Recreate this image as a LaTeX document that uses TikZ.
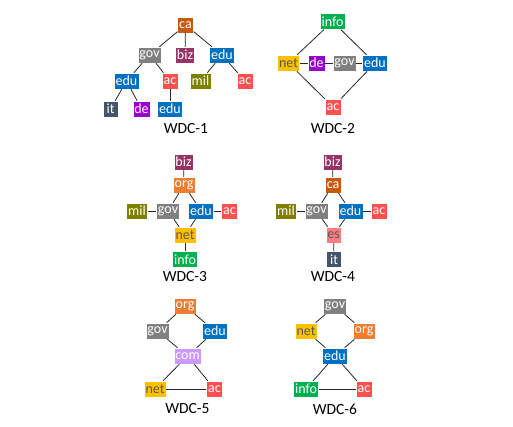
\documentclass[tikz,border=0pt]{standalone}
\usepackage{fontspec}
\setmainfont{Carlito}
\definecolor{cca}{HTML}{C55A11}
\definecolor{cgov}{HTML}{808080}
\definecolor{cbiz}{HTML}{993366}
\definecolor{cedu}{HTML}{0070C0}
\definecolor{cac}{HTML}{FF5050}
\definecolor{cmil}{HTML}{808000}
\definecolor{cit}{HTML}{44546A}
\definecolor{cde}{HTML}{9900CC}
\definecolor{cinfo}{HTML}{00B050}
\definecolor{cnet}{HTML}{FFC000}
\definecolor{corg}{HTML}{ED7D31}
\definecolor{ccom}{HTML}{CC99FF}
\definecolor{ces}{HTML}{FF7C80}
\definecolor{darktxt}{HTML}{595959}
\tikzset{
  dom/.style={rectangle, draw=white, line width=0.5pt, minimum height=16pt, minimum width=15pt, inner xsep=1.5pt, inner ysep=0pt, text=white, font=\fontsize{14}{14}\selectfont},
  ca/.style={dom, fill=cca},
  gov/.style={dom, fill=cgov},
  biz/.style={dom, fill=cbiz},
  edu/.style={dom, fill=cedu},
  ac/.style={dom, fill=cac},
  mil/.style={dom, fill=cmil},
  it/.style={dom, fill=cit},
  de/.style={dom, fill=cde},
  info/.style={dom, fill=cinfo},
  net/.style={dom, fill=cnet, text=darktxt},
  org/.style={dom, fill=corg},
  com/.style={dom, fill=ccom},
  es/.style={dom, fill=ces, text=darktxt},
  lbl/.style={font=\fontsize{15.5}{16}\selectfont, text=black},
  edge/.style={draw=black!85, line width=0.8pt}
}
\begin{document}
\begin{tikzpicture}[x=1pt,y=-1pt]
\useasboundingbox (0,0) rectangle (513,427);
% WDC-1
\node[ca]  (a-ca)   at (185.5,25) {ca};
\node[gov] (a-gov)  at (149.5,55) {gov};
\node[biz] (a-biz)  at (185,55) {biz};
\node[edu] (a-edu)  at (222,55) {edu};
\node[edu] (a-edu2) at (126.5,81) {edu};
\node[ac]  (a-ac)   at (170,81) {ac};
\node[mil] (a-mil)  at (200.5,81) {mil};
\node[ac]  (a-ac2)  at (245,81) {ac};
\node[it]  (a-it)   at (110.5,109) {it};
\node[de]  (a-de)   at (141.5,109) {de};
\node[edu] (a-edu3) at (170,109) {edu};
\node[lbl] (a-l)    at (186,129) {WDC-1};
\draw[edge] (a-ca) -- (a-gov);
\draw[edge] (a-ca) -- (a-biz);
\draw[edge] (a-ca) -- (a-edu);
\draw[edge] (a-gov) -- (a-edu2);
\draw[edge] (a-gov) -- (a-ac);
\draw[edge] (a-edu) -- (a-mil);
\draw[edge] (a-edu) -- (a-ac2);
\draw[edge] (a-edu2) -- (a-it);
\draw[edge] (a-edu2) -- (a-de);
\draw[edge] (a-ac) -- (a-edu3);
% WDC-2
\node[info] (b-info) at (332.5,21.5) {info};
\node[net]  (b-net)  at (288.5,63) {net};
\node[de]   (b-de)   at (316.5,63) {de};
\node[gov]  (b-gov)  at (344.5,63) {gov};
\node[edu]  (b-edu)  at (375,63) {edu};
\node[ac]   (b-ac)   at (333,107) {ac};
\node[lbl]  (b-l)    at (333,129) {WDC-2};
\draw[edge] (b-info) -- (b-net);
\draw[edge] (b-info) -- (b-edu);
\draw[edge] (b-net) -- (b-de);
\draw[edge] (b-de) -- (b-gov);
\draw[edge] (b-gov) -- (b-edu);
\draw[edge] (b-net) -- (b-ac);
\draw[edge] (b-edu) -- (b-ac);
% WDC-3
\node[biz]  (c-biz)  at (183.5,162) {biz};
\node[org]  (c-org)  at (184,185) {org};
\node[mil]  (c-mil)  at (137,211) {mil};
\node[gov]  (c-gov)  at (168,211) {gov};
\node[edu]  (c-edu)  at (201,211) {edu};
\node[ac]   (c-ac)   at (229.5,211) {ac};
\node[net]  (c-net)  at (185,235) {net};
\node[info] (c-info) at (185,259.5) {info};
\node[lbl]  (c-l)    at (185,277) {WDC-3};
\draw[edge] (c-biz) -- (c-org);
\draw[edge] (c-org) -- (c-gov);
\draw[edge] (c-org) -- (c-edu);
\draw[edge] (c-mil) -- (c-gov);
\draw[edge] (c-edu) -- (c-ac);
\draw[edge] (c-gov) -- (c-net);
\draw[edge] (c-edu) -- (c-net);
\draw[edge] (c-net) -- (c-info);
% WDC-4
\node[biz]  (d-biz)  at (332.5,162) {biz};
\node[ca]   (d-ca)   at (333,185) {ca};
\node[mil]  (d-mil)  at (286,211) {mil};
\node[gov]  (d-gov)  at (316.5,211) {gov};
\node[edu]  (d-edu)  at (350.5,211) {edu};
\node[ac]   (d-ac)   at (379,211) {ac};
\node[es]   (d-es)   at (333.5,235) {es};
\node[it]   (d-it)   at (334,259.5) {it};
\node[lbl]  (d-l)    at (333,277) {WDC-4};
\draw[edge] (d-biz) -- (d-ca);
\draw[edge] (d-ca) -- (d-gov);
\draw[edge] (d-ca) -- (d-edu);
\draw[edge] (d-mil) -- (d-gov);
\draw[edge] (d-edu) -- (d-ac);
\draw[edge] (d-gov) -- (d-es);
\draw[edge] (d-edu) -- (d-es);
\draw[edge] (d-es) -- (d-it);
% WDC-5
\node[org]  (e-org)  at (185,306) {org};
\node[gov]  (e-gov)  at (157.5,331) {gov};
\node[edu]  (e-edu)  at (215,331) {edu};
\node[com]  (e-com)  at (187.5,356) {com};
\node[net]  (e-net)  at (155,389) {net};
\node[ac]   (e-ac)   at (214.5,389) {ac};
\node[lbl]  (e-l)    at (187.5,409) {WDC-5};
\draw[edge] (e-org) -- (e-gov);
\draw[edge] (e-org) -- (e-edu);
\draw[edge] (e-gov) -- (e-com);
\draw[edge] (e-edu) -- (e-com);
\draw[edge] (e-com) -- (e-net);
\draw[edge] (e-com) -- (e-ac);
\draw[edge] (e-net) -- (e-ac);
% WDC-6
\node[gov]  (f-gov)  at (335,306) {gov};
\node[net]  (f-net)  at (306,331) {net};
\node[org]  (f-org)  at (364,331) {org};
\node[edu]  (f-edu)  at (335,356) {edu};
\node[info] (f-info) at (306,389) {info};
\node[ac]   (f-ac)   at (364,389) {ac};
\node[lbl]  (f-l)    at (335,409) {WDC-6};
\draw[edge] (f-gov) -- (f-net);
\draw[edge] (f-gov) -- (f-org);
\draw[edge] (f-net) -- (f-edu);
\draw[edge] (f-org) -- (f-edu);
\draw[edge] (f-edu) -- (f-info);
\draw[edge] (f-edu) -- (f-ac);
\draw[edge] (f-info) -- (f-ac);
\end{tikzpicture}
\end{document}
